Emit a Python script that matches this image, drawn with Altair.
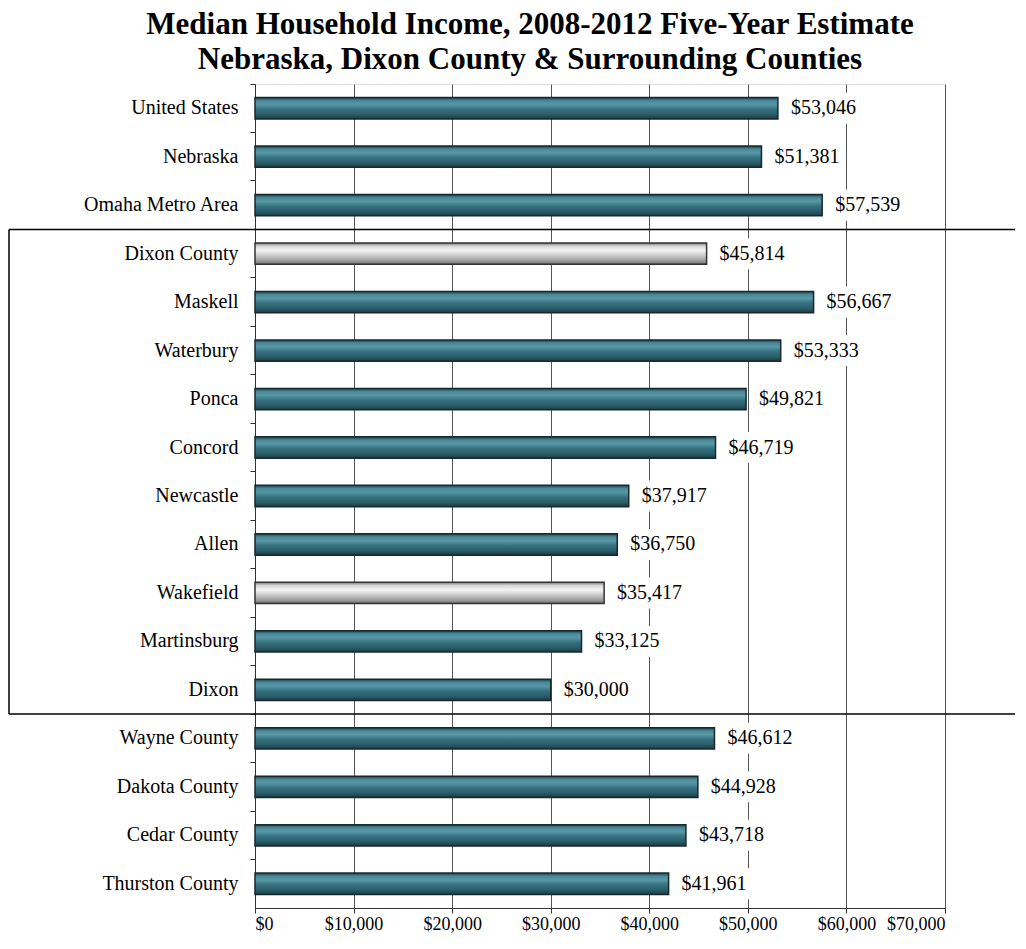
import altair as alt
import pandas as pd

categories = ["United States", "Nebraska", "Omaha Metro Area", "Dixon County", "Maskell",
              "Waterbury", "Ponca", "Concord", "Newcastle", "Allen", "Wakefield",
              "Martinsburg", "Dixon", "Wayne County", "Dakota County", "Cedar County",
              "Thurston County"]
values = [53046, 51381, 57539, 45814, 56667, 53333, 49821, 46719, 37917, 36750, 35417,
          33125, 30000, 46612, 44928, 43718, 41961]
highlighted = ["Dixon County", "Wakefield"]
box_start = ["Dixon County"]
box_end = ["Wayne County"]

df = pd.DataFrame({"place": categories, "income": values})
df["hl"] = df["place"].isin(highlighted)

FONT = "Liberation Serif"

y_enc = alt.Y("place:N", sort=categories,
              scale=alt.Scale(domain=categories, paddingInner=0, paddingOuter=0),
              axis=alt.Axis(title=None, labelFont=FONT, labelFontSize=20, labelColor="black",
                            labelPadding=12, tickSize=5, tickColor="#333", domainColor="#333",
                            bandPosition=0, grid=False, labelLimit=300))
x_enc = alt.X("income:Q", scale=alt.Scale(domain=[0, 70000], nice=False),
              axis=alt.Axis(title=None, values=[0, 10000, 20000, 30000, 40000, 50000, 60000, 70000],
                            format="$,.0f", labelFont=FONT, labelFontSize=18, labelColor="black",
                            tickSize=5, tickColor="#333", domainColor="#333", labelPadding=2,
                            grid=True, gridColor="#555", gridWidth=1))

teal = alt.Gradient(gradient="linear", x1=0, x2=0, y1=0, y2=1, stops=[
    alt.GradientStop(color="#1d4650", offset=0),
    alt.GradientStop(color="#4a8998", offset=0.15),
    alt.GradientStop(color="#5898a6", offset=0.32),
    alt.GradientStop(color="#36717f", offset=0.55),
    alt.GradientStop(color="#2a5c68", offset=0.8),
    alt.GradientStop(color="#1a3a42", offset=1)])
silver = alt.Gradient(gradient="linear", x1=0, x2=0, y1=0, y2=1, stops=[
    alt.GradientStop(color="#7a7a7a", offset=0),
    alt.GradientStop(color="#d6d6d6", offset=0.15),
    alt.GradientStop(color="#f4f4f4", offset=0.35),
    alt.GradientStop(color="#c9c9c9", offset=0.6),
    alt.GradientStop(color="#9a9a9a", offset=0.85),
    alt.GradientStop(color="#686868", offset=1)])

base = alt.Chart(df)

bars_teal = base.transform_filter("!datum.hl").mark_bar(
    height={"band": 0.44}, color=teal, stroke="#18292e", strokeWidth=1.5
).encode(x=x_enc, y=y_enc)

bars_silver = base.transform_filter("datum.hl").mark_bar(
    height={"band": 0.44}, color=silver, stroke="#333333", strokeWidth=1.5
).encode(x=x_enc, y=y_enc)

label_box = base.mark_bar(height={"band": 0.64}, color="white", xOffset=8, x2Offset=84).encode(
    x=alt.X("income:Q"), x2=alt.X2("income:Q"), y=alt.Y("place:N", sort=categories))

labels = base.mark_text(align="left", baseline="middle", dx=13, font=FONT, fontSize=20,
                        color="black").encode(
    x=alt.X("income:Q"), y=alt.Y("place:N", sort=categories),
    text=alt.Text("income:Q", format="$,.0f"))

hdf = pd.DataFrame({"place": box_start + box_end})
hrules = alt.Chart(hdf).mark_rule(color="black", strokeWidth=1.5).encode(
    y=alt.Y("place:N", sort=categories, bandPosition=0),
    x=alt.value(-246), x2=alt.value(760))

vdf = pd.DataFrame({"start": box_start, "end": box_end})
vrule = alt.Chart(vdf).mark_rule(color="black", strokeWidth=1.5).encode(
    y=alt.Y("start:N", sort=categories, bandPosition=0),
    y2=alt.Y2("end", bandPosition=0),
    x=alt.value(-246))

chart = alt.layer(bars_teal, bars_silver, label_box, labels, hrules, vrule).properties(
    width=690, height=824, padding=0,
    title=alt.TitleParams(
        text=["Median Household Income, 2008-2012 Five-Year Estimate",
              "Nebraska, Dixon County & Surrounding Counties"],
        font=FONT, fontSize=31, fontWeight="bold", color="black", lineHeight=35,
        anchor="middle", frame="group", dx=-70, offset=8)
).configure_view(stroke="#888", strokeWidth=1).configure(background="white")

chart.save("out.html", embed_options={"renderer": "svg", "actions": False})
